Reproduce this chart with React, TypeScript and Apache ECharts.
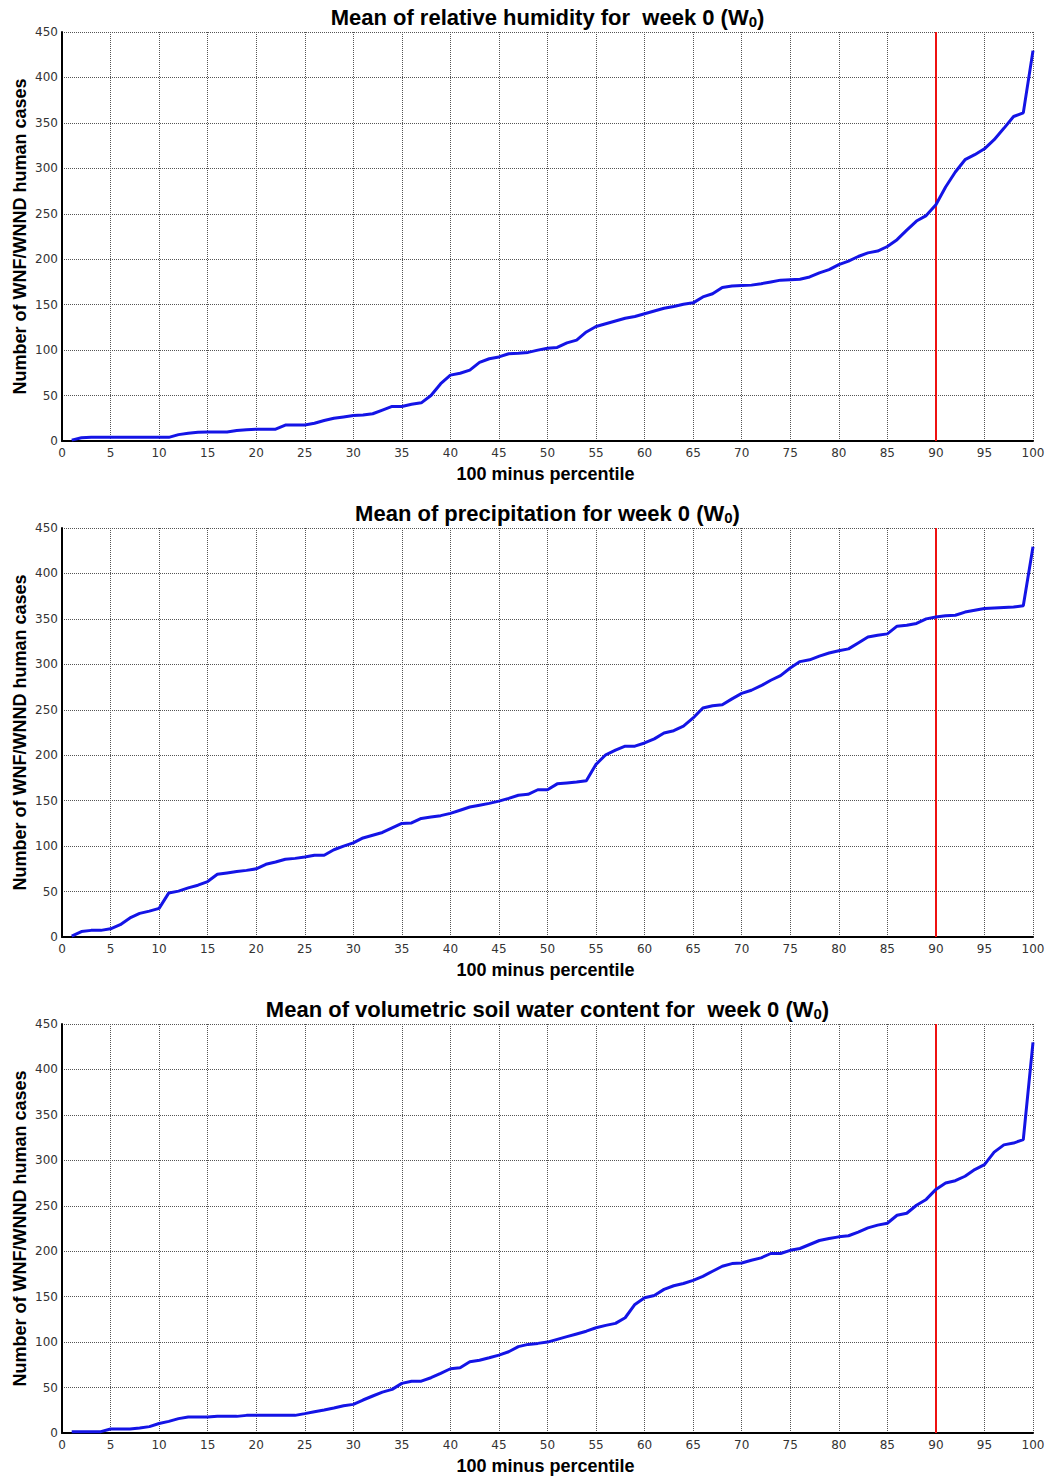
import React, { useEffect, useRef } from "react";
import * as echarts from "echarts";

const percentiles = [
  1, 2, 3, 4, 5, 6, 7, 8, 9, 10, 11, 12, 13, 14, 15, 16, 17, 18, 19, 20,
  21, 22, 23, 24, 25, 26, 27, 28, 29, 30, 31, 32, 33, 34, 35, 36, 37, 38, 39, 40,
  41, 42, 43, 44, 45, 46, 47, 48, 49, 50, 51, 52, 53, 54, 55, 56, 57, 58, 59, 60,
  61, 62, 63, 64, 65, 66, 67, 68, 69, 70, 71, 72, 73, 74, 75, 76, 77, 78, 79, 80,
  81, 82, 83, 84, 85, 86, 87, 88, 89, 90, 91, 92, 93, 94, 95, 96, 97, 98, 99, 100,
];

const humidity = [
  1, 3.5, 4, 4, 4, 4, 4, 4, 4, 4, 4, 7, 8.5, 9.5, 10, 10, 10, 11.5, 12.5, 13,
  13, 13, 17.5, 17.5, 17.5, 19.5, 22.5, 25, 26.5, 28, 28.5, 30, 34, 38, 38, 40.5, 42, 50, 63, 72.5,
  74.5, 78, 86.5, 90.5, 92.5, 96, 96.5, 97.5, 100, 102, 103, 108, 111, 120, 126, 129, 132, 135, 137, 140,
  143, 146, 148, 150.5, 152, 158.5, 162, 169, 170.5, 171, 171.5, 173, 175, 177, 177.5, 178, 180.5, 185, 188.5, 194,
  198, 203, 207, 209, 214, 221.5, 232, 242, 248, 260, 279.5, 296, 309.5, 315, 321.5, 331.5, 344, 357, 361, 429.5,
];

const precipitation = [
  1, 6, 7.3, 7.3, 9, 13.5, 21, 26, 28.5, 31.5, 48.5, 50.5, 54, 57, 61, 69, 70.5, 72, 73.3, 75,
  80, 82.5, 85.5, 86.5, 88, 90, 90, 96, 100, 103.5, 109, 112, 115, 120, 125, 125.5, 130.5, 132, 133.5, 136,
  139.5, 143, 145, 147, 149.5, 152.5, 156, 157, 162, 162, 168.5, 169.5, 170.5, 172, 190, 200.5, 205.5, 210, 210, 213.5,
  218, 224.5, 227, 232, 241, 252, 254.5, 255.5, 262, 268, 271.5, 276.5, 282.5, 287.5, 296, 303, 305, 309, 312.5, 315,
  317, 323.5, 330, 332, 333.5, 342, 343, 345, 350, 352, 353.5, 354, 357.5, 359.5, 361.5, 362, 362.5, 363, 364.5, 429.5,
];

const soilWater = [
  1.5, 1.5, 1.5, 1.5, 4.4, 4.4, 4.4, 5.5, 7, 10.5, 12.8, 15.8, 17.6, 17.6, 17.6, 18.3, 18.3, 18.3, 19.4, 19.4,
  19.4, 19.4, 19.4, 19.4, 21.3, 23.4, 25.3, 27.5, 30, 31.5, 36.3, 40.7, 45, 48, 54.6, 57, 57, 60.8, 65.6, 70.7,
  71.8, 78.4, 80, 82.8, 85.7, 89.4, 95, 97.5, 98.6, 100, 103, 106, 109, 112, 115.8, 118.4, 120.6, 126.8, 141.4, 148.8,
  151.3, 158, 162, 164.5, 168, 172.4, 178, 183.5, 186.4, 187, 190, 192.7, 197.5, 197.5, 201, 203, 207.4, 211.8, 214, 215.8,
  217, 221, 225.7, 228.7, 230.8, 239.6, 241.8, 250.6, 257, 268, 275, 277.6, 282.5, 289.8, 295.3, 309, 317, 319, 322.8, 429.8,
];

const titles = [
  "Mean of relative humidity for  week 0 (W{s|0})",
  "Mean of precipitation for week 0 (W{s|0})",
  "Mean of volumetric soil water content for  week 0 (W{s|0})",
];
const seriesList = [humidity, precipitation, soilWater];
const yAxisName = "Number of WNF/WNND human cases";
const xAxisName = "100 minus percentile";
const threshold = 90;
const xMin = 0;
const xMax = 100;
const xStep = 5;
const yMin = 0;
const yMax = 450;
const yStep = 50;

const GRID_TOPS = [32, 528, 1024];
const GRID_LEFT = 62;
const GRID_WIDTH = 971;
const GRID_HEIGHT = 409;

export default function App() {
  const ref = useRef<HTMLDivElement>(null);

  useEffect(() => {
    if (!ref.current) return;
    const chart = echarts.init(ref.current, undefined, { renderer: "svg" });

    const grid = GRID_TOPS.map((top) => ({
      left: GRID_LEFT,
      top,
      width: GRID_WIDTH,
      height: GRID_HEIGHT,
      containLabel: false,
    }));

    const splitStyle = { color: "#555", width: 1, type: [1, 1] as any };

    const xAxis = GRID_TOPS.map((_, i) => ({
      type: "value",
      gridIndex: i,
      min: xMin,
      max: xMax,
      interval: xStep,
      axisLine: { show: true, onZero: false, lineStyle: { color: "#000", width: 2 } },
      axisTick: { show: false },
      axisLabel: { color: "#333", fontSize: 12, fontFamily: "DejaVu Sans", margin: 6 },
      splitLine: { show: true, lineStyle: splitStyle },
    }));

    const yAxis = GRID_TOPS.map((_, i) => ({
      type: "value",
      gridIndex: i,
      min: yMin,
      max: yMax,
      interval: yStep,
      axisLine: { show: true, onZero: false, lineStyle: { color: "#000", width: 2 } },
      axisTick: { show: false },
      axisLabel: { color: "#333", fontSize: 12, fontFamily: "DejaVu Sans", margin: 4 },
      splitLine: { show: true, lineStyle: splitStyle },
    }));

    const series = seriesList.map((vals, i) => ({
      type: "line",
      xAxisIndex: i,
      yAxisIndex: i,
      data: percentiles.map((p, k) => [p, vals[k]]),
      showSymbol: false,
      symbol: "none",
      smooth: false,
      lineStyle: { color: "#1414e6", width: 3 },
      z: 3,
      markLine: {
        silent: true,
        symbol: "none",
        label: { show: false },
        lineStyle: { color: "#ee1111", width: 2, type: "solid" },
        data: [{ xAxis: threshold }],
        z: 2,
      },
    }));

    const font = "Liberation Sans";
    const graphic: any[] = [];
    GRID_TOPS.forEach((top, i) => {
      const cx = GRID_LEFT + GRID_WIDTH / 2;
      graphic.push({
        type: "text",
        x: cx,
        y: top - 15,
        style: {
          text: titles[i],
          fontSize: 22,
          fontWeight: "bold",
          fontFamily: font,
          fill: "#000",
          align: "center",
          verticalAlign: "middle",
          textAlign: "center",
          textVerticalAlign: "middle",
          rich: {
            s: {
              fontSize: 15,
              fontWeight: "bold",
              fontFamily: font,
              fill: "#000",
              padding: [8, 0, 0, 0],
            },
          },
        },
      });
      graphic.push({
        type: "text",
        x: 20,
        y: top + GRID_HEIGHT / 2,
        rotation: Math.PI / 2,
        style: {
          text: yAxisName,
          fontSize: 18,
          fontWeight: "bold",
          fontFamily: font,
          fill: "#000",
          align: "center",
          verticalAlign: "middle",
          textAlign: "center",
          textVerticalAlign: "middle",
        },
      });
      graphic.push({
        type: "text",
        x: GRID_LEFT + GRID_WIDTH / 2 - 2,
        y: top + GRID_HEIGHT + 33,
        style: {
          text: xAxisName,
          fontSize: 18,
          fontWeight: "bold",
          fontFamily: font,
          fill: "#000",
          align: "center",
          verticalAlign: "middle",
          textAlign: "center",
          textVerticalAlign: "middle",
        },
      });
    });

    chart.setOption({
      animation: false,
      backgroundColor: "#fff",
      grid,
      xAxis,
      yAxis,
      series,
      graphic,
    } as any);

    return () => chart.dispose();
  }, []);

  return (
    <div
      ref={ref}
      style={{ position: "absolute", left: 0, top: 0, width: 1055, height: 1477 }}
    />
  );
}
